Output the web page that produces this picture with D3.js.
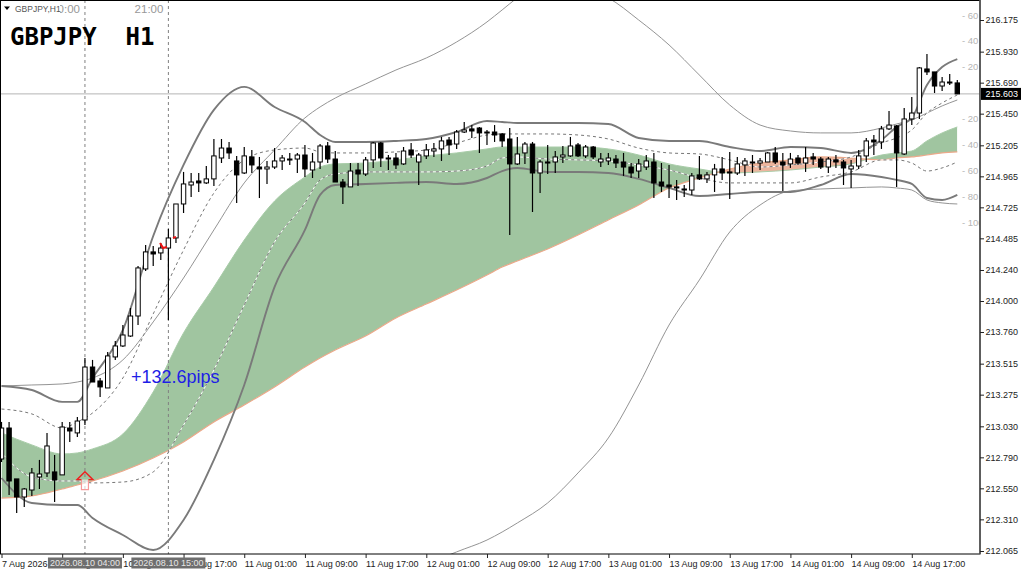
<!DOCTYPE html>
<html>
<head>
<meta charset="utf-8">
<script src="https://cdn.jsdelivr.net/npm/d3@7"></script>
<style>
  html, body { margin: 0; padding: 0; background: #fff; }
  svg { display: block; }
</style>
</head>
<body>
<div id="chart"></div>
<script>
// hourly candles, bar 0 = 7 Aug 2026 17:00 or so, bar 126 = 14 Aug 23:00
const opens = [212.777,213.017,212.623,212.483,212.537,212.638,212.669,212.677,212.654,213.017,212.979,213.079,213.489,213.381,213.327,213.567,213.652,213.729,213.884,214.248,214.380,214.372,214.410,214.488,214.751,214.898,214.929,214.914,214.945,215.107,215.184,215.084,214.991,215.115,215.037,215.022,215.037,215.084,215.099,215.099,215.130,215.014,215.076,215.200,215.099,214.921,214.883,215.014,214.983,215.092,215.223,215.107,215.107,215.061,215.169,215.076,215.123,215.161,215.177,215.246,215.215,215.308,215.332,215.339,215.308,215.308,215.293,215.254,215.061,215.146,215.215,214.991,215.076,215.076,215.115,215.123,215.208,215.123,215.192,215.076,215.084,215.099,215.076,215.037,215.006,215.037,215.076,214.921,214.898,214.883,214.867,214.859,214.976,214.945,214.976,215.022,214.999,214.991,215.053,215.076,215.068,215.076,215.146,215.076,215.061,215.107,215.068,215.115,215.099,215.037,215.092,215.076,215.022,215.045,215.123,215.246,215.231,215.332,215.355,215.138,215.409,215.455,215.796,215.773,215.664,215.695,215.688];
const highs = [213.064,213.064,212.623,212.553,212.708,212.770,212.979,212.808,213.064,213.064,213.102,213.559,213.544,213.404,213.606,213.691,213.815,213.946,214.271,214.434,214.426,214.449,214.558,214.751,214.999,214.991,214.991,215.045,215.254,215.254,215.231,215.123,215.192,215.169,215.115,215.084,215.184,215.130,215.146,215.146,215.208,215.146,215.215,215.231,215.161,214.945,215.068,215.068,215.115,215.231,215.231,215.130,215.146,215.192,215.223,215.146,215.215,215.223,215.270,215.270,215.324,215.386,215.362,215.347,215.324,215.362,215.301,215.339,215.270,215.231,215.231,215.092,215.208,215.161,215.200,215.270,215.223,215.208,215.200,215.146,215.146,215.130,215.146,215.068,215.099,215.130,215.146,215.068,215.053,214.937,214.898,214.991,215.123,214.999,215.061,215.115,215.154,215.115,215.107,215.130,215.107,215.154,215.192,215.146,215.146,215.130,215.192,215.146,215.115,215.115,215.130,215.092,215.092,215.169,215.262,215.285,215.355,215.471,215.362,215.494,215.579,215.811,215.912,215.773,215.734,215.757,215.711];
const lows = [212.754,212.499,212.359,212.406,212.491,212.545,212.638,212.444,212.654,212.909,212.948,213.040,213.373,213.257,213.327,213.544,213.644,213.722,213.815,214.232,214.271,214.318,213.853,214.449,214.681,214.805,214.844,214.906,214.890,215.068,215.099,214.759,214.983,214.991,214.797,214.906,215.022,215.014,215.053,214.991,214.960,214.952,215.022,215.068,214.921,214.751,214.883,214.890,214.968,215.030,215.037,215.014,215.022,215.053,215.107,214.898,215.099,215.115,215.084,215.130,215.177,215.301,215.262,215.146,215.208,215.231,215.192,214.511,215.053,215.061,214.689,214.836,214.983,214.991,215.068,215.115,215.115,215.107,215.099,215.037,215.053,215.030,214.968,214.952,214.952,215.014,214.797,214.844,214.797,214.782,214.805,214.821,214.937,214.914,214.844,214.937,214.790,214.976,214.968,214.991,215.014,215.076,215.061,214.852,215.030,215.053,214.999,215.053,215.022,214.991,215.030,214.898,214.875,215.022,215.076,215.130,215.177,215.324,214.883,215.130,215.362,215.409,215.749,215.610,215.626,215.672,215.602];
const closes = [213.017,212.607,212.483,212.545,212.669,212.661,212.878,212.615,213.025,212.994,213.071,213.489,213.373,213.335,213.575,213.652,213.737,213.884,214.256,214.380,214.364,214.410,214.488,214.751,214.906,214.921,214.914,214.945,215.123,215.184,215.146,214.976,215.123,215.053,215.022,215.037,215.084,215.107,215.092,215.130,215.022,215.076,215.200,215.099,214.921,214.883,215.006,214.983,215.092,215.223,215.107,215.099,215.053,215.161,215.130,215.130,215.169,215.177,215.239,215.208,215.308,215.324,215.316,215.301,215.301,215.285,215.239,215.061,215.138,215.215,214.991,215.076,215.068,215.115,215.130,215.200,215.123,215.192,215.115,215.099,215.107,215.068,215.037,214.991,215.061,215.084,214.914,214.890,214.883,214.875,214.859,214.968,214.945,214.976,215.022,214.991,214.991,215.061,215.084,215.068,215.084,215.146,215.076,215.053,215.099,215.068,215.107,215.099,215.037,215.099,215.076,215.030,215.045,215.123,215.239,215.231,215.332,215.362,215.146,215.409,215.455,215.804,215.773,215.664,215.695,215.688,215.603];

// the indicator lines at these bars only
const sampleBars = [0,4,8,10,12,16,20,24,28,32,36,40,42,44,48,52,56,60,64,66,68,72,76,80,84,88,92,96,100,104,108,112,116,118,120,122,124,126];
const bandUpper = [213.342,213.311,213.219,213.219,213.404,213.776,214.503,215.053,215.479,215.657,215.502,215.386,215.285,215.231,215.231,215.239,215.254,215.308,215.393,215.386,215.378,215.378,215.378,215.370,215.262,215.239,215.239,215.192,215.161,215.192,215.184,215.146,215.246,215.347,215.417,215.672,215.811,215.873];
const bandLower = [212.630,212.437,212.421,212.421,212.321,212.189,212.073,212.305,212.770,213.350,214.109,214.550,214.821,214.898,214.906,214.914,214.921,214.906,214.952,215.006,215.030,214.999,214.999,214.991,214.945,214.875,214.813,214.828,214.844,214.844,214.898,214.983,214.960,214.937,214.906,214.797,214.782,214.821];
const wideUpper = [213.342,213.350,213.358,213.373,213.404,213.544,213.838,214.178,214.550,214.914,215.169,215.417,215.502,215.571,215.680,215.788,215.881,216.005,216.160,216.253,216.345,216.438,216.423,216.345,216.175,215.982,215.749,215.517,215.362,215.316,215.301,215.301,215.339,215.370,215.401,215.455,215.510,215.556];
const wideLower = [null,null,null,null,null,null,null,null,null,null,null,null,null,null,null,211.802,211.957,212.058,212.150,212.212,212.282,212.437,212.669,212.940,213.350,213.814,214.163,214.534,214.743,214.852,214.867,214.875,214.883,214.875,214.859,214.782,214.759,214.751];
const dashUpper = [213.164,213.126,213.017,213.064,213.133,213.404,213.900,214.395,214.836,215.092,215.169,215.184,215.154,215.146,215.146,215.154,215.169,215.223,215.285,215.293,215.293,215.293,215.285,215.254,215.184,215.146,215.138,215.092,215.037,215.053,215.076,215.115,215.223,215.262,215.324,215.455,215.533,215.595];
const dashLower = [212.824,212.638,212.607,212.607,212.592,212.599,212.677,213.040,213.466,213.969,214.457,214.759,214.937,214.983,214.999,214.999,214.999,215.006,215.045,215.107,215.115,215.099,215.092,215.084,215.053,215.014,214.952,214.914,214.914,214.914,214.960,214.999,215.092,215.092,215.068,215.006,215.030,215.076];
const spanA = [212.979,212.886,212.816,212.824,212.855,212.971,213.296,213.753,214.109,214.472,214.774,214.960,215.037,215.061,215.068,215.092,215.123,215.146,215.177,215.192,215.192,215.192,215.192,215.177,215.130,215.061,215.022,214.991,214.999,215.014,215.037,215.061,215.130,215.146,215.161,215.239,215.301,215.347];
const spanB = [212.475,212.491,212.545,212.576,212.607,212.684,212.785,212.909,213.064,213.195,213.335,213.489,213.559,213.621,213.729,213.869,213.977,214.085,214.201,214.263,214.310,214.403,214.511,214.627,214.743,214.875,214.952,215.022,215.068,215.092,215.115,215.107,215.092,215.107,215.115,215.130,215.146,215.154];

const priceTicks = [216.175,215.930,215.690,215.450,215.205,214.965,214.725,214.485,214.240,214.000,213.760,213.515,213.275,213.030,212.790,212.550,212.310,212.065];
const timeTicks = [0,8,16,24,32,40,48,56,64,72,80,88,96,104,112,120];
const timeLabels = ["7 Aug 2026","10 Aug 01:00","10 Aug 09:00","10 Aug 17:00","11 Aug 01:00","11 Aug 09:00","11 Aug 17:00","12 Aug 01:00","12 Aug 09:00","12 Aug 17:00","13 Aug 01:00","13 Aug 09:00","13 Aug 17:00","14 Aug 01:00","14 Aug 09:00","14 Aug 17:00"];
const oscTicks = [60,40,20,-20,-40,-60,-80,-100];

const lastPrice = 215.603;
const markerBars = [11,22];
const markerStamps = ["2026.08.10 04:00","2026.08.10 15:00"];
const markerHours = ["10:00","21:00"];
const entryBar = 11, entryPrice = 212.625;
// null breaks the red mark where candle 22 stands
const redBars = [20.9,21.3,21.8,null,22.6,23];
const redPrices = [214.449,214.410,214.418,null,214.488,214.496];

const size = { width: 1024, height: 574 };
const plot = { right: 980, bottom: 554 };
const uiFont = "'Liberation Sans', Arial, sans-serif";

const x = d3.scaleLinear().domain([0,126]).range([1.5,957.3]);
const y = d3.scaleLinear().domain([216.175,212.065]).range([20,551]);
const osc = d3.scaleLinear().domain([60,-100]).range([15,222.5]);

const svg = d3.select("#chart").append("svg")
  .attr("width", size.width)
  .attr("height", size.height);

svg.append("rect").attr("width", size.width).attr("height", size.height).attr("fill", "#fff");

const defs = svg.append("defs");
defs.append("clipPath").attr("id","plotClip").append("rect")
  .attr("width", plot.right).attr("height", plot.bottom);

const samples = sampleBars.map((bar,i) => ({ bar, a: spanA[i], b: spanB[i] }));

// same trick as a difference chart: one area, clipped above and below span B
const cloud = d3.area().x(d => x(d.bar)).y0(d => y(d.a)).y1(d => y(d.b)).curve(d3.curveMonotoneX);
defs.append("clipPath").attr("id","aboveB").append("path")
  .attr("d", d3.area().x(d => x(d.bar)).y0(0).y1(d => y(d.b)).curve(d3.curveMonotoneX)(samples));
defs.append("clipPath").attr("id","belowB").append("path")
  .attr("d", d3.area().x(d => x(d.bar)).y0(plot.bottom).y1(d => y(d.b)).curve(d3.curveMonotoneX)(samples));

const chart = svg.append("g").attr("clip-path","url(#plotClip)");

chart.append("path").attr("d", cloud(samples)).attr("fill","#a0c5a0").attr("clip-path","url(#aboveB)");
chart.append("path").attr("d", cloud(samples)).attr("fill","#ecb59e").attr("clip-path","url(#belowB)");

const lineOf = (values) => d3.line()
  .defined(d => d.v !== null)
  .x(d => x(d.bar))
  .y(d => y(d.v))
  .curve(d3.curveMonotoneX)(sampleBars.map((bar,i) => ({ bar, v: values[i] })));

chart.append("path").attr("d", lineOf(spanA)).attr("fill","none").attr("stroke","#a8cca8").attr("stroke-width",1);
chart.append("path").attr("d", lineOf(spanB)).attr("fill","none").attr("stroke","#eba98a").attr("stroke-width",1.2);

// current price line
chart.append("line")
  .attr("x1",0).attr("x2",plot.right)
  .attr("y1",y(lastPrice)).attr("y2",y(lastPrice))
  .attr("stroke","#b4b4b4").attr("stroke-width",1);

// oscillator scale printed inside the plot
chart.selectAll(".oscLabel").data(oscTicks).join("text")
  .attr("class","oscLabel")
  .attr("x",962).attr("y",d => osc(d)+3.5)
  .attr("font-family",uiFont).attr("font-size",9.5).attr("fill","#b5b5b5")
  .text(d => "- " + Math.abs(d));

[wideUpper,wideLower].forEach(v => {
  chart.append("path").attr("d", lineOf(v)).attr("fill","none").attr("stroke","#949494").attr("stroke-width",1);
});
[dashUpper,dashLower].forEach(v => {
  chart.append("path").attr("d", lineOf(v)).attr("fill","none").attr("stroke","#fff").attr("stroke-width",1);
  chart.append("path").attr("d", lineOf(v)).attr("fill","none").attr("stroke","#777").attr("stroke-width",1).attr("stroke-dasharray","3,3");
});
[bandUpper,bandLower].forEach(v => {
  chart.append("path").attr("d", lineOf(v)).attr("fill","none").attr("stroke","#7a7a7a").attr("stroke-width",1.9);
});

// vertical markers
chart.selectAll(".marker").data(markerBars).join("line")
  .attr("class","marker")
  .attr("x1",d => x(d)).attr("x2",d => x(d))
  .attr("y1",0).attr("y2",plot.bottom)
  .attr("stroke","#808080").attr("stroke-width",1).attr("stroke-dasharray","3,3");

// candles
const bars = opens.map((o,i) => ({ i, o, h: highs[i], l: lows[i], c: closes[i] }));
const candle = chart.append("g").selectAll("g").data(bars).join("g");
candle.append("line")
  .attr("x1",d => x(d.i)).attr("x2",d => x(d.i))
  .attr("y1",d => y(d.h)).attr("y2",d => y(d.l))
  .attr("stroke","#000").attr("stroke-width",1.2);
candle.append("rect")
  .attr("x",d => x(d.i)-2.2).attr("width",4.4)
  .attr("y",d => y(Math.max(d.o,d.c)))
  .attr("height",d => Math.max(1,Math.abs(y(d.o)-y(d.c))))
  .attr("fill",d => d.c >= d.o ? "#fff" : "#000")
  .attr("stroke","#000").attr("stroke-width",1);

// small red trade mark
chart.append("path")
  .attr("d", d3.line().defined(d => d[0] !== null).x(d => x(d[0])).y(d => y(d[1]))(redBars.map((b,i) => [b,redPrices[i]])))
  .attr("fill","none").attr("stroke","#ee1111").attr("stroke-width",2);

// entry arrow, drawn from the point of the head: pale shaft, strong red head
const ax = x(entryBar), ay = y(entryPrice);
chart.append("path")
  .attr("d", `M${ax-3.5},${ay+1}V${ay+11}H${ax+3.5}V${ay+1}`)
  .attr("fill","#fff").attr("fill-opacity",0.65).attr("stroke","#f59a9a").attr("stroke-width",1.2);
chart.append("path")
  .attr("d", `M${ax-3.5},${ay+1}H${ax-8}L${ax},${ay-7}L${ax+8},${ay+1}H${ax+3.5}`)
  .attr("fill","none").attr("stroke","#ee2020").attr("stroke-width",1.4);

chart.append("text")
  .attr("x",131).attr("y",383)
  .attr("font-family",uiFont).attr("font-size",18).attr("fill","#1e1ee6")
  .text("+132.6pips");

// header texts
chart.selectAll(".hour").data(markerBars).join("text")
  .attr("class","hour")
  .attr("x",d => x(d)-5).attr("y",13)
  .attr("text-anchor","end")
  .attr("font-family",uiFont).attr("font-size",11.5).attr("fill","#989898")
  .text((d,i) => markerHours[i]);
chart.append("rect").attr("x",1).attr("y",2).attr("width",59).attr("height",13).attr("fill","#fff");
chart.append("path").attr("d","M4,6.5H10L7,10Z").attr("fill","#000");
chart.append("text")
  .attr("x",15).attr("y",12)
  .attr("font-family",uiFont).attr("font-size",8.5).attr("fill","#555")
  .text("GBPJPY,H1");
chart.append("text")
  .attr("x",10).attr("y",45)
  .attr("font-family","'DejaVu Sans Mono', monospace").attr("font-size",24).attr("font-weight","bold")
  .attr("fill","#000").style("white-space","pre")
  .text("GBPJPY  H1");

// frame
svg.append("rect").attr("x",0.5).attr("y",0.5).attr("width",plot.right-0.5).attr("height",plot.bottom-0.5)
  .attr("fill","none").attr("stroke","#000").attr("stroke-width",1);
svg.append("line").attr("x1",plot.right).attr("x2",plot.right).attr("y1",0).attr("y2",plot.bottom)
  .attr("stroke","#555").attr("stroke-width",1.6);

// price axis
const yAxis = svg.append("g")
  .attr("transform",`translate(${plot.right},0)`)
  .call(d3.axisRight(y).tickValues(priceTicks).tickSize(4).tickPadding(1.5).tickFormat(d3.format(".3f")));
yAxis.select(".domain").remove();
yAxis.selectAll("text").attr("font-family",uiFont).attr("font-size",9).attr("fill","#222");
yAxis.selectAll("line").attr("stroke","#222");

// last price tag
svg.append("rect").attr("x",plot.right+1).attr("y",y(lastPrice)-6).attr("width",40).attr("height",12).attr("fill","#000");
svg.append("text")
  .attr("x",plot.right+5.5).attr("y",y(lastPrice)+3.3)
  .attr("font-family",uiFont).attr("font-size",9).attr("fill","#fff")
  .text(d3.format(".3f")(lastPrice));

// time axis
const xAxis = svg.append("g")
  .attr("transform",`translate(0,${plot.bottom})`)
  .call(d3.axisBottom(x).tickValues(timeTicks).tickSize(4).tickFormat((d,i) => timeLabels[i]));
xAxis.select(".domain").remove();
xAxis.selectAll("line").attr("stroke","#222");
xAxis.selectAll("text")
  .attr("text-anchor","start").attr("dx",0).attr("y",7).attr("dy","0.71em")
  .attr("font-family",uiFont).attr("font-size",9).attr("fill","#222");

// grey date stamps sit on top of the time axis
const stamp = svg.selectAll(".stamp").data(markerBars).join("g").attr("class","stamp");
stamp.append("rect")
  .attr("x",d => x(d)-37).attr("y",557.5).attr("width",74).attr("height",11)
  .attr("fill","#6e6e6e");
stamp.append("text")
  .attr("x",d => x(d)).attr("y",566.2).attr("text-anchor","middle")
  .attr("font-family",uiFont).attr("font-size",9).attr("fill","#e6e6e6")
  .text((d,i) => markerStamps[i]);
</script>
</body>
</html>
